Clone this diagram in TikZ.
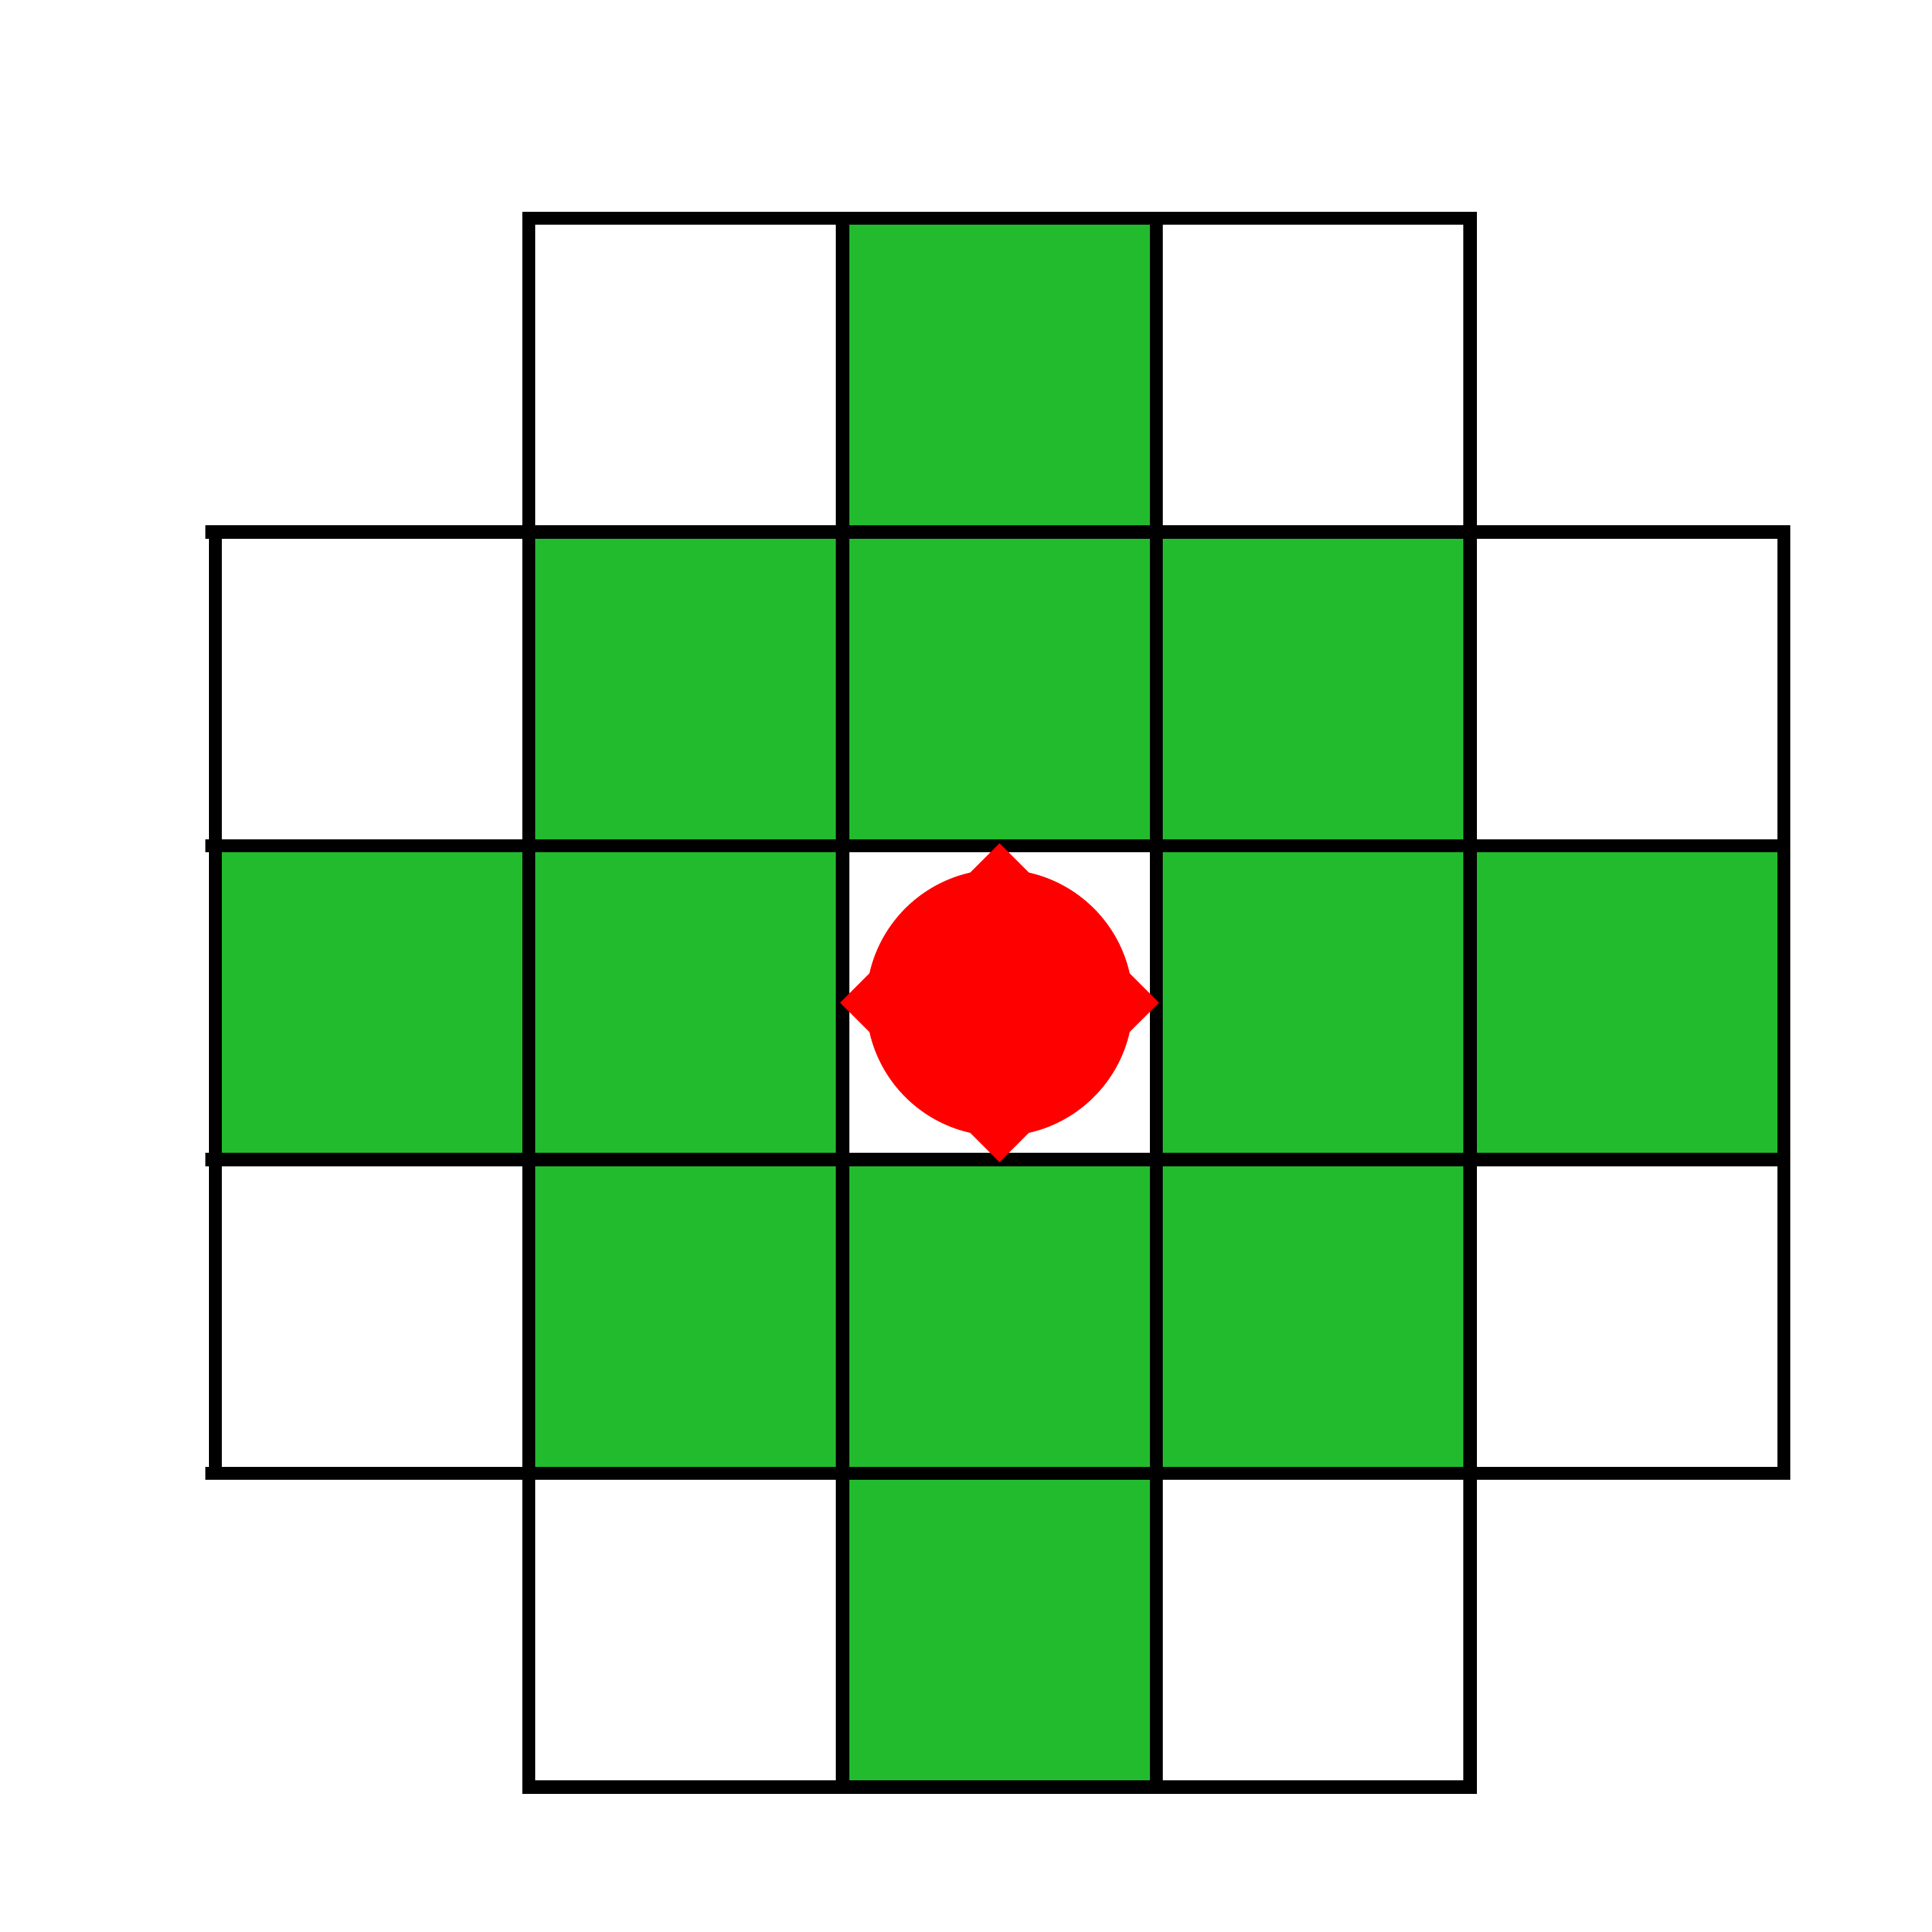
\documentclass[tikz,border=0pt]{standalone}
\usetikzlibrary{shapes.geometric}
\definecolor{Grass}{HTML}{22BB2E}
\tikzset{
  cell/.style={draw, line width=1.2pt, minimum size=1cm, inner sep=0pt, outer sep=0pt},
  stub/.style={line width=1.2pt},
  hit/.style={fill=red, inner sep=0pt, outer sep=0pt}
}
\begin{document}
\begin{tikzpicture}
  \useasboundingbox (-0.686,-0.462) rectangle (5.471,5.696);
  % board: 5x5 without corners, green diamond round the centre
  \foreach \i in {0,...,4}
    \foreach \j in {0,...,4} {
      \pgfmathtruncatemacro\dd{abs(\i-2)+abs(\j-2)}
      \ifnum\dd<4
        \ifnum\dd=0 \def\col{white}\else\ifnum\dd>2 \def\col{white}\else\def\col{Grass}\fi\fi
        \node[cell, fill=\col] (c-\i-\j) at (\i+0.5,4.5-\j) {};
      \fi
    }
  % little overshoot on the left edge
  \foreach \j in {1,2,3}
    \draw[stub] (c-0-\j.north west) -- ++(-0.032,0);
  \draw[stub] (c-0-3.south west) -- ++(-0.032,0);
  % piece in the middle
  \node[hit, circle, minimum size=0.85cm] (dot) at (c-2-2) {};
  \node[hit, diamond, minimum width=1.016cm, minimum height=1.016cm] (tip) at (c-2-2) {};
\end{tikzpicture}
\end{document}
